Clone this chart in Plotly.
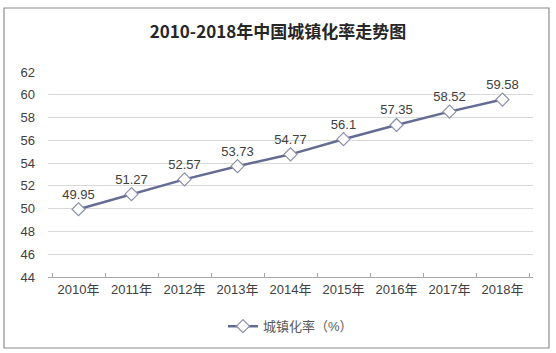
import plotly.graph_objects as go

years = ["2010年", "2011年", "2012年", "2013年", "2014年", "2015年", "2016年", "2017年", "2018年"]
rates = [49.95, 51.27, 52.57, 53.73, 54.77, 56.1, 57.35, 58.52, 59.58]
labels = ["49.95", "51.27", "52.57", "53.73", "54.77", "56.1", "57.35", "58.52", "59.58"]
y_ticks = [44, 46, 48, 50, 52, 54, 56, 58, 60, 62]

font_cjk = "Noto Sans CJK SC, Liberation Sans, Arial, sans-serif"
font_mix = "Liberation Sans, Arial, Noto Sans CJK SC, sans-serif"

fig = go.Figure()
fig.add_trace(go.Scatter(
    x=years, y=rates, mode="lines+markers+text",
    name="城镇化率（%）",
    text=labels, textposition="top center",
    textfont=dict(family="Liberation Sans, Arial, sans-serif", size=13, color="#404040"),
    line=dict(color="#646C94", width=2.5),
    marker=dict(symbol="diamond", size=10, color="white", line=dict(color="#8A8FA8", width=1.2)),
    cliponaxis=False,
))

fig.update_layout(
    width=556, height=353,
    margin=dict(l=48, r=23, t=72, b=76),
    paper_bgcolor="white", plot_bgcolor="white",
    title=dict(text="<b>2010-2018年中国城镇化率走势图</b>", x=0.5, xanchor="center",
               y=1 - 32 / 353, yanchor="middle",
               font=dict(family=font_cjk, size=17, color="#262626")),
    showlegend=True,
    legend=dict(orientation="h", x=0.5, xanchor="center", y=-0.24, yanchor="middle",
                font=dict(family=font_mix, size=13, color="#595959"), itemwidth=30),
    xaxis=dict(type="category", showgrid=False, showline=True, linecolor="#A6A6A6", linewidth=1,
               ticks="inside", ticklen=4, tickcolor="#A6A6A6", tickson="boundaries",
               tickfont=dict(family=font_mix, size=13, color="#404040")),
    yaxis=dict(range=[44, 62], tickvals=y_ticks, showgrid=True, gridcolor="#D9D9D9", gridwidth=1,
               zeroline=False, showline=False, ticks="", ticklabelstandoff=12,
               tickfont=dict(family="Liberation Sans, Arial, sans-serif", size=13, color="#404040")),
    shapes=[dict(type="rect", xref="paper", yref="paper",
                 x0=-44 / 485, x1=(549 - 48) / 485, y0=-(348 - 277) / 205, y1=1 + (72 - 8) / 205,
                 line=dict(color="#8C8C8C", width=1.2), fillcolor="rgba(0,0,0,0)", layer="below")],
)

fig.write_html("out.html")
